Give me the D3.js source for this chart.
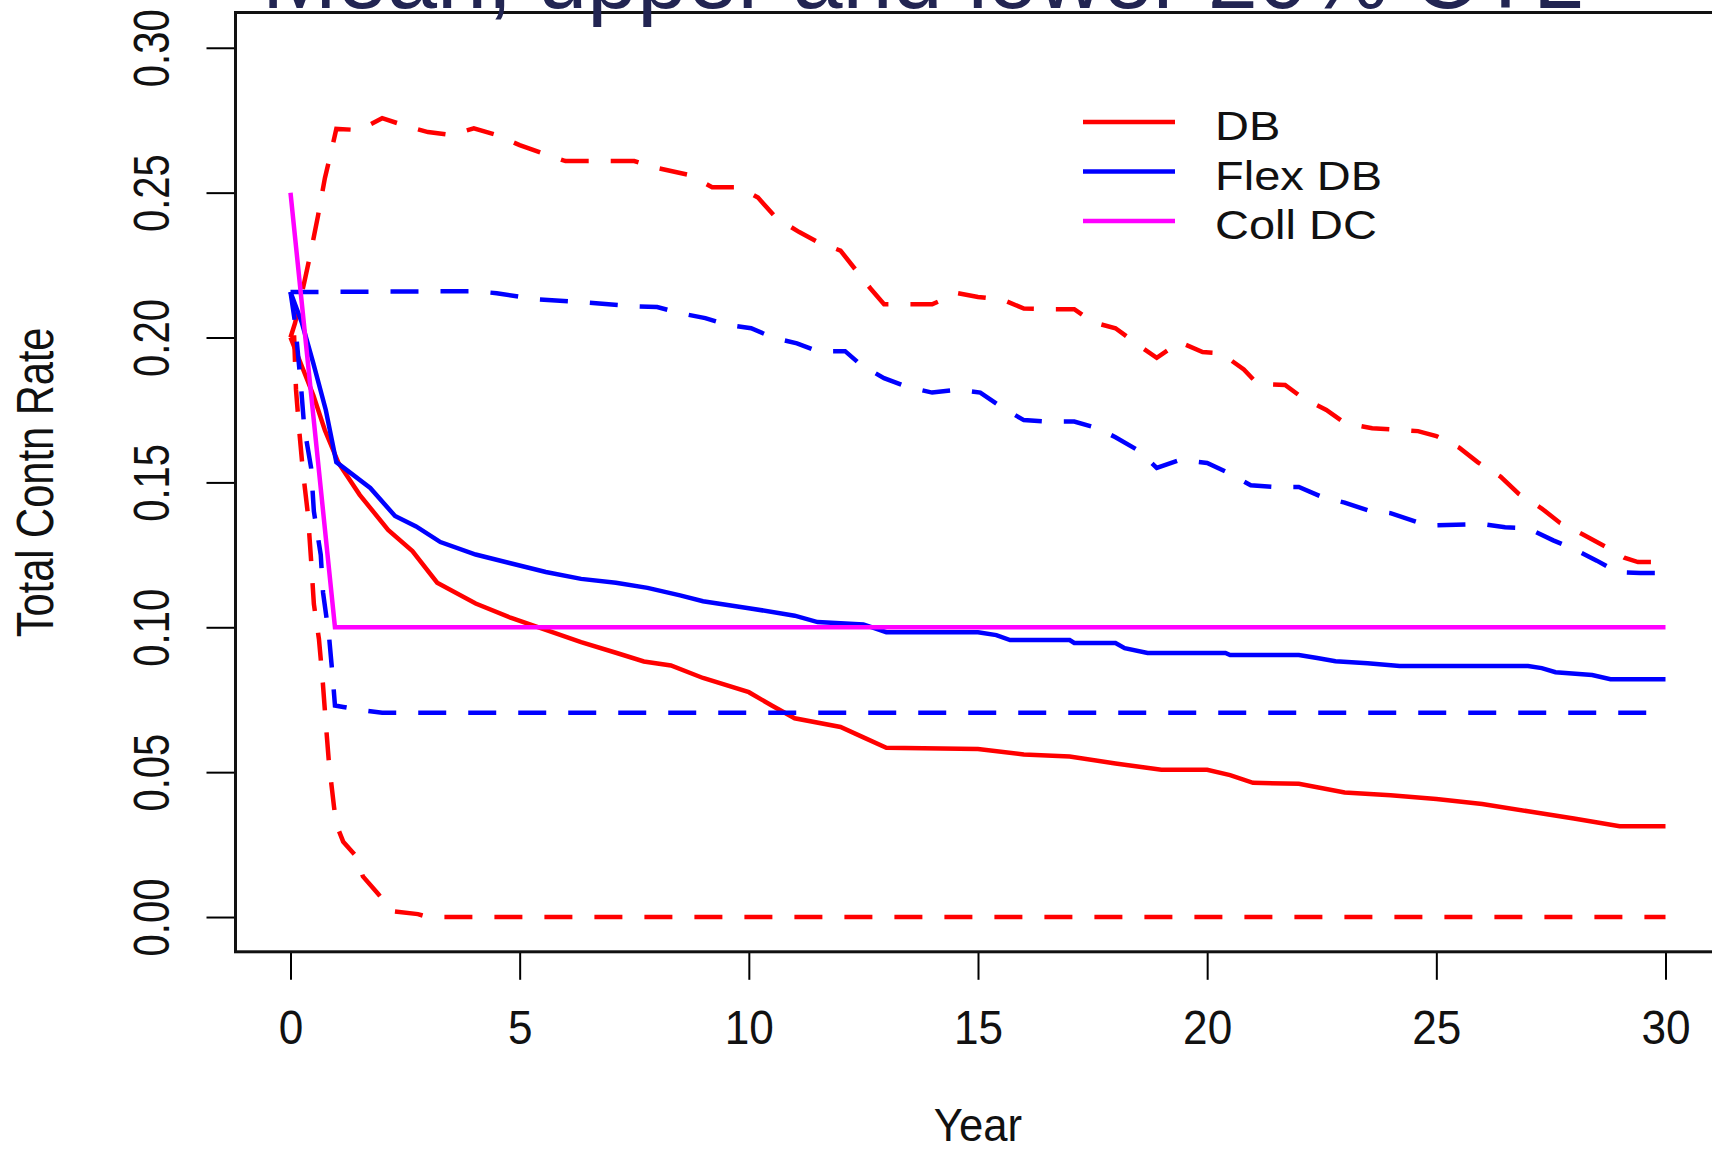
<!DOCTYPE html>
<html>
<head>
<meta charset="utf-8">
<title>Total Contn Rate by Year</title>
<script src="https://cdn.jsdelivr.net/npm/d3@7"></script>
<style>
  html, body { margin: 0; padding: 0; background: #fff; }
  svg { display: block; font-family: "Liberation Sans", Arial, Helvetica, sans-serif; }
</style>
</head>
<body>
<svg id="chart" width="1712" height="1149"></svg>
<script>
// Contribution rate paths: mean (solid) plus upper/lower 20% bands (dashed)
const titleText = 'Mean, upper and lower 20% CTL';
const xTitle = 'Year';
const yTitle = 'Total Contn Rate';
const yearTicks = [0, 5, 10, 15, 20, 25, 30];
const rateTicks = [0, 0.05, 0.10, 0.15, 0.20, 0.25, 0.30];
const rateTickLabels = ['0.00', '0.05', '0.10', '0.15', '0.20', '0.25', '0.30'];

const legendNames = ['DB', 'Flex DB', 'Coll DC'];
const legendColors = ['#ff0000', '#0000ff', '#ff00ff'];

// [year, rate]
const dbMean = [
  [0, 0.200], [0.25, 0.190], [0.5, 0.180], [0.75, 0.168], [1.05, 0.1566], [1.51, 0.1457],
  [2.13, 0.1336], [2.66, 0.1263], [3.2, 0.1154], [4.04, 0.1082], [4.8, 0.1033], [5.57, 0.0991],
  [6.34, 0.0949], [7.1, 0.0912], [7.71, 0.0882], [8.3, 0.0868], [9, 0.0825], [10, 0.0776],
  [10.5, 0.0730], [11, 0.0686], [12, 0.0656], [12.5, 0.0620], [13, 0.0584], [15, 0.0580],
  [16, 0.0561], [17, 0.0554], [18, 0.0530], [19, 0.0508], [20, 0.0508], [20.5, 0.0490],
  [21, 0.0463], [22, 0.0460], [23, 0.0430], [24, 0.0420], [25, 0.0407], [26, 0.0390],
  [27, 0.0365], [28, 0.0340], [29, 0.0313], [30, 0.0313]
];

const dbUpper = [
  [0, 0.200], [0.1, 0.205], [0.2, 0.212], [0.3, 0.219], [0.45, 0.230], [0.6, 0.242],
  [0.75, 0.255], [0.9, 0.265], [1.0, 0.272], [1.5, 0.2716], [2.0, 0.2757], [2.6, 0.2726],
  [3.0, 0.2709], [3.5, 0.2699], [4.0, 0.2722], [4.5, 0.2699], [5.0, 0.2664], [5.5, 0.2636],
  [6.0, 0.2609], [7.5, 0.2609], [8.0, 0.2585], [8.7, 0.2561], [9.2, 0.2519], [9.8, 0.2519],
  [10.2, 0.2483], [10.6, 0.2412], [11.1, 0.2364], [11.5, 0.2330], [12.0, 0.2300], [12.3, 0.2240],
  [12.65, 0.2170], [12.95, 0.2115], [14.0, 0.2115], [14.55, 0.2153], [15.0, 0.2140], [15.55, 0.2130],
  [16.0, 0.2100], [16.6, 0.2098], [17.1, 0.2098], [17.5, 0.2053], [18.0, 0.2032], [18.5, 0.1974],
  [18.9, 0.1930], [19.4, 0.1984], [19.9, 0.1950], [20.3, 0.1946], [20.8, 0.1890], [21.1, 0.1840],
  [21.7, 0.1836], [22.1, 0.1790], [22.6, 0.1750], [23.0, 0.1705], [23.6, 0.1687], [24.6, 0.1677],
  [25.0, 0.1660], [25.5, 0.1620], [25.9, 0.1570], [26.4, 0.1520], [26.8, 0.1460], [27.3, 0.1410],
  [27.7, 0.1360], [28.2, 0.1320], [28.7, 0.1277], [29.1, 0.1240], [29.4, 0.1225], [30, 0.1225]
];

const dbLower = [
  [0, 0.200], [0.08, 0.200], [0.12, 0.182], [0.19, 0.168], [0.27, 0.154], [0.38, 0.139],
  [0.45, 0.123], [0.51, 0.108], [0.62, 0.096], [0.70, 0.082], [0.77, 0.067], [0.84, 0.053],
  [0.95, 0.038], [1.0, 0.032], [1.15, 0.026], [1.43, 0.021], [1.58, 0.014], [1.91, 0.008],
  [2.23, 0.002], [2.78, 0.001], [3, 0], [30, 0]
];

const flexMean = [
  [0, 0.2157], [0.25, 0.205], [0.5, 0.191], [0.77, 0.175], [1.0, 0.157], [1.74, 0.1481],
  [2.28, 0.1384], [2.74, 0.1348], [3.27, 0.1294], [4.04, 0.1251], [4.8, 0.1221], [5.57, 0.1191],
  [6.34, 0.1167], [7.1, 0.1154], [7.79, 0.1136], [8.5, 0.1110], [9, 0.1090], [10, 0.1066],
  [11, 0.1040], [11.5, 0.1018], [12.5, 0.1010], [13, 0.0983], [15, 0.0983], [15.4, 0.0973],
  [15.7, 0.0956], [17, 0.0956], [17.1, 0.0946], [18, 0.0946], [18.2, 0.0928], [18.7, 0.0911],
  [20.4, 0.0911], [20.5, 0.0904], [22, 0.0904], [22.4, 0.0894], [22.8, 0.0883], [23.5, 0.0876],
  [24.2, 0.0866], [27, 0.0866], [27.3, 0.0859], [27.6, 0.0845], [28.4, 0.0835], [28.8, 0.0821],
  [30, 0.0821]
];

const flexUpper = [
  [0, 0.2157], [4.0, 0.2160], [4.5, 0.2153], [5.3, 0.2133], [6.4, 0.2122], [7.5, 0.2108],
  [8.0, 0.2105], [8.5, 0.2084], [9.05, 0.2067], [9.55, 0.2043], [10.05, 0.2032], [10.55, 0.1998],
  [11.05, 0.1980], [11.5, 0.1953], [12.1, 0.1953], [12.45, 0.1905], [12.95, 0.1860], [13.45, 0.1830],
  [14.0, 0.1810], [14.55, 0.1820], [15.05, 0.1810], [15.55, 0.1756], [16.0, 0.1715], [16.5, 0.1710],
  [17.1, 0.1710], [17.6, 0.1687], [18.0, 0.1656], [18.5, 0.1610], [18.9, 0.1550], [19.4, 0.1577],
  [20.0, 0.1567], [20.5, 0.1530], [20.95, 0.1490], [21.5, 0.1484], [22.0, 0.1484], [22.5, 0.1450],
  [23.0, 0.1430], [23.5, 0.1404], [24.0, 0.1394], [24.6, 0.1362], [25.0, 0.1352], [26.0, 0.1356],
  [26.5, 0.1345], [27.0, 0.1342], [27.55, 0.1300], [28.0, 0.1270], [28.5, 0.1230], [28.95, 0.1190],
  [29.45, 0.1187], [30, 0.1187]
];

const flexLower = [
  [0, 0.2157], [0.1, 0.205], [0.23, 0.183], [0.3, 0.169], [0.45, 0.155], [0.51, 0.140],
  [0.66, 0.125], [0.71, 0.112], [0.84, 0.097], [0.92, 0.083], [0.97, 0.073], [1.15, 0.0725],
  [1.5, 0.0715], [2.0, 0.0705], [30, 0.0705]
];

const collDC = [[0, 0.25], [0.97, 0.10], [30, 0.10]];

(function(){
  const svg = d3.select('#chart');
  const W = 1712, H = 1149;
  const squash = 0.8; // rotated labels and legend are drawn vertically compressed

  svg.append('rect').attr('width', W).attr('height', H).attr('fill', '#fff');

  // R-style range: data extent padded by 4%
  const x = d3.scaleLinear().domain([-1.2, 31.2]).range([235.5, 1720.5]);
  const y = d3.scaleLinear().domain([-0.012, 0.312]).range([951.8, 13]);

  const series = [
    { data: dbMean,    color: legendColors[0], dashed: false },
    { data: dbUpper,   color: legendColors[0], dashed: true },
    { data: dbLower,   color: legendColors[0], dashed: true },
    { data: flexMean,  color: legendColors[1], dashed: false },
    { data: flexUpper, color: legendColors[1], dashed: true },
    { data: flexLower, color: legendColors[1], dashed: true },
    { data: collDC,    color: legendColors[2], dashed: false }
  ];

  const line = d3.line().x(d => x(d[0])).y(d => y(d[1]));

  svg.append('g')
    .selectAll('path')
    .data(series)
    .enter()
    .append('path')
    .attr('d', d => line(d.data))
    .attr('fill', 'none')
    .attr('stroke', d => d.color)
    .attr('stroke-width', 4.5)
    .attr('stroke-linejoin', 'miter')
    .attr('stroke-dasharray', d => d.dashed ? '28,22' : null);

  // Axes
  const yAxis = svg.append('g')
    .attr('transform', `translate(${x.range()[0]},0)`)
    .call(d3.axisLeft(y).tickValues(rateTicks).tickSize(29).tickPadding(0)
      .tickFormat((d, i) => rateTickLabels[i]));
  yAxis.select('.domain').remove();
  yAxis.selectAll('.tick line').attr('stroke', '#000').attr('stroke-width', 2);
  yAxis.selectAll('.tick text')
    .attr('x', 0).attr('dy', '0.35em')
    .attr('text-anchor', 'middle')
    .attr('font-size', 50)
    .attr('fill', '#111')
    .attr('transform', `translate(-84,0) scale(1,${squash}) rotate(-90)`);

  const xAxis = svg.append('g')
    .attr('transform', `translate(0,${y.range()[0]})`)
    .call(d3.axisBottom(x).tickValues(yearTicks).tickSize(28).tickFormat(d3.format('d')));
  xAxis.select('.domain').remove();
  xAxis.selectAll('.tick line').attr('stroke', '#000').attr('stroke-width', 2);
  xAxis.selectAll('.tick text')
    .attr('y', 0).attr('dy', 0)
    .attr('font-size', 48)
    .attr('fill', '#111')
    .attr('transform', 'translate(0,92) scale(0.92,1)');

  // Plot frame
  svg.append('rect')
    .attr('x', x.range()[0]).attr('y', y.range()[1] - 0.5)
    .attr('width', x.range()[1] - x.range()[0])
    .attr('height', y.range()[0] - y.range()[1] + 0.5)
    .attr('fill', 'none')
    .attr('stroke', '#111')
    .attr('stroke-width', 3);

  // Axis titles
  svg.append('text')
    .attr('text-anchor', 'middle')
    .attr('font-size', 46)
    .attr('fill', '#111')
    .attr('transform', `translate(${x(15)},1141) scale(0.95,1)`)
    .text(xTitle);

  svg.append('text')
    .attr('text-anchor', 'middle')
    .attr('dy', '0.35em')
    .attr('font-size', 52)
    .attr('fill', '#111')
    .attr('transform', `translate(35,${y(0.15)}) scale(1,${squash}) rotate(-90)`)
    .text(yTitle);

  // Legend (no box)
  const legend = svg.append('g').attr('transform', 'translate(1083,122)');
  const item = legend.selectAll('g')
    .data(legendNames)
    .enter()
    .append('g')
    .attr('transform', (d, i) => `translate(0,${i * 49.5})`);
  item.append('line')
    .attr('x1', 0).attr('x2', 92)
    .attr('stroke', (d, i) => legendColors[i])
    .attr('stroke-width', 4.5);
  item.append('text')
    .attr('font-size', 47)
    .attr('fill', '#111')
    .attr('transform', `translate(132,18) scale(1,0.85)`)
    .text(d => d);

  // Slide title sits above the frame, mostly cut off by the top edge
  svg.append('text')
    .attr('x', 262)
    .attr('y', 8)
    .attr('font-size', 90)
    .attr('fill', '#222552')
    .attr('textLength', 1321)
    .attr('lengthAdjust', 'spacingAndGlyphs')
    .text(titleText);
})();
</script>
</body>
</html>
